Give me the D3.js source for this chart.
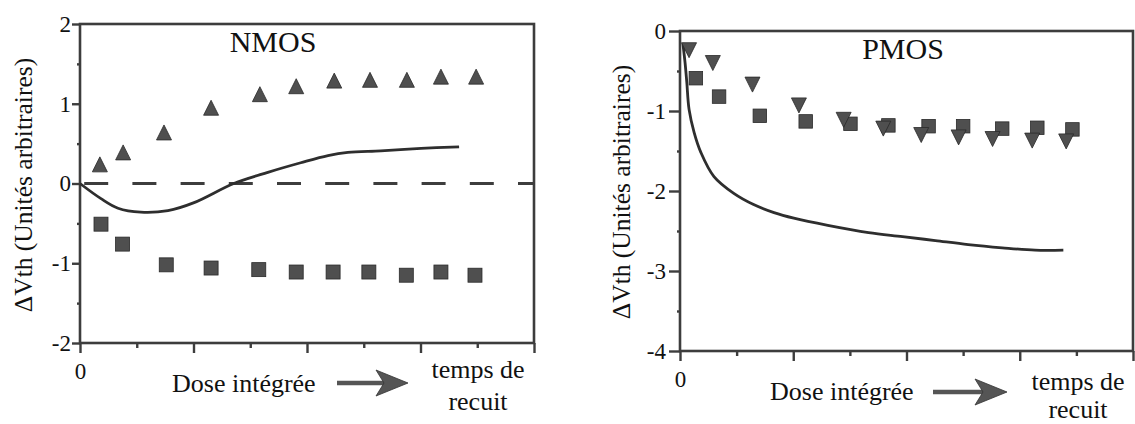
<!DOCTYPE html>
<html>
<head>
<meta charset="utf-8">
<script src="https://cdn.jsdelivr.net/npm/d3@7"></script>
<style>
body{margin:0;background:#fff}
svg text{font-family:"Liberation Serif","Times New Roman",Times,serif}
</style>
</head>
<body>
<svg id="chart" width="1135" height="424"></svg>
<script>
//---NMOS values---
var nmosTriX=[0.35,0.76,1.48,2.31,3.17,3.81,4.48,5.11,5.76,6.36,6.98]
var nmosTriY=[0.24,0.39,0.64,0.95,1.12,1.22,1.29,1.30,1.30,1.34,1.34]
var nmosSqX=[0.37,0.75,1.52,2.31,3.15,3.81,4.46,5.09,5.75,6.36,6.96]
var nmosSqY=[-0.51,-0.76,-1.02,-1.06,-1.08,-1.11,-1.11,-1.11,-1.15,-1.11,-1.15]
var nmosCurveX=[0,0.37,0.67,1.07,1.55,2.01,2.71,3.31,3.89,4.37,4.72,5.30,6.01,6.68]
var nmosCurveY=[0,-0.19,-0.31,-0.36,-0.34,-0.24,0,0.14,0.26,0.35,0.39,0.41,0.44,0.46]

//---PMOS values---
var pmosTriX=[0.16,0.58,1.28,2.10,2.89,3.59,4.26,4.92,5.52,6.22,6.82]
var pmosTriY=[-0.24,-0.40,-0.67,-0.93,-1.11,-1.22,-1.30,-1.33,-1.35,-1.37,-1.38]
var pmosSqX=[0.28,0.69,1.41,2.22,3.01,3.68,4.39,5.00,5.69,6.31,6.93]
var pmosSqY=[-0.59,-0.82,-1.06,-1.13,-1.16,-1.18,-1.19,-1.19,-1.22,-1.21,-1.23]
var pmosCurveX=[0.05,0.09,0.12,0.16,0.25,0.37,0.60,0.95,1.30,1.66,2.01,2.61,3.33,3.93,4.51,5.09,5.69,6.27,6.77]
var pmosCurveY=[-0.15,-0.40,-0.64,-0.98,-1.27,-1.52,-1.82,-2.03,-2.17,-2.27,-2.34,-2.43,-2.52,-2.57,-2.62,-2.67,-2.71,-2.74,-2.74]

//---ticks---
var xMajor=[0,2,4,6,8]
var xMinor=[1,3,5,7]
var nmosYMajor=[-2,-1,0,1,2]
var nmosYMinor=[-1.5,-0.5,0.5,1.5]
var pmosYMajor=[-4,-3,-2,-1,0]
var pmosYMinor=[-3.5,-2.5,-1.5,-0.5]

var yTitle="\u0394Vth (Unités arbitraires)"
var xTitle="Dose intégrée"
var endLabel1="temps de"
var endLabel2="recuit"

var FONT="\"Liberation Serif\",\"Times New Roman\",Times,serif"
var INK="#111"
var LINE="#3d3d3d"
var MARK="#4f4f4f"

var svg=d3.select("#chart")
svg.append("rect").attr("width",1135).attr("height",424).attr("fill","#fff")

function zip(a,b){ return a.map(function(d,i){return {x:d,y:b[i]}}) }

function triPath(s,down)
{
    var h=s/2
    if(down) return "M"+(-h)+","+(-h)+"L"+h+","+(-h)+"L0,"+h+"Z"
    return "M0,"+(-h)+"L"+h+","+h+"L"+(-h)+","+h+"Z"
}

function drawPanel(p)
{
    var g=svg.append("g").style("font-family",FONT)

    var xScale=d3.scaleLinear().domain([0,8]).range(p.xRange)
    var yScale=d3.scaleLinear().domain(p.yDomain).range(p.yRange)

    //---frame---
    g.append("rect")
    .attr("x",p.xRange[0]).attr("y",p.yRange[1])
    .attr("width",p.xRange[1]-p.xRange[0])
    .attr("height",p.yRange[0]-p.yRange[1])
    .attr("fill","none").attr("stroke",LINE).attr("stroke-width",2.6)

    //---y axis major---
    var yAx=g.append("g")
    .attr("transform","translate("+p.xRange[0]+",0)")
    .call(d3.axisLeft(yScale).tickValues(p.yMajor).tickSize(p.yTick).tickPadding(p.yPad)
        .tickFormat(function(d){return String(d)}))
    yAx.attr("font-family",null).attr("font-size",null)
    yAx.select(".domain").remove()
    yAx.selectAll("line").attr("stroke",LINE).attr("stroke-width",2.4)
    yAx.selectAll("text").style("font-family",FONT).style("font-size","23px").attr("fill",INK)

    //---y axis minor---
    var yMin=g.append("g")
    .attr("transform","translate("+p.xRange[0]+",0)")
    .call(d3.axisLeft(yScale).tickValues(p.yMinor).tickSize(3).tickFormat(""))
    yMin.select(".domain").remove()
    yMin.selectAll("line").attr("stroke",LINE).attr("stroke-width",2.4)

    //---x axis major---
    var xAx=g.append("g")
    .attr("transform","translate(0,"+p.yRange[0]+")")
    .call(d3.axisBottom(xScale).tickValues(xMajor).tickSize(10).tickPadding(10)
        .tickFormat(function(d){return d===0?"0":""}))
    xAx.attr("font-family",null).attr("font-size",null)
    xAx.select(".domain").remove()
    xAx.selectAll("line").attr("stroke",LINE).attr("stroke-width",2.4)
    xAx.selectAll("text").style("font-family",FONT).style("font-size","23px").attr("fill",INK)

    var xMin=g.append("g")
    .attr("transform","translate(0,"+p.yRange[0]+")")
    .call(d3.axisBottom(xScale).tickValues(xMinor).tickSize(5).tickFormat(""))
    xMin.select(".domain").remove()
    xMin.selectAll("line").attr("stroke",LINE).attr("stroke-width",2.4)

    //---zero dashed line---
    if(p.zeroLine)
    {
        g.append("line")
        .attr("x1",xScale(0)).attr("x2",xScale(8))
        .attr("y1",yScale(0)).attr("y2",yScale(0))
        .attr("stroke",LINE).attr("stroke-width",3)
        .attr("stroke-dasharray","24 24.2")
        .attr("stroke-dashoffset",44)
    }

    //---curve---
    var line=d3.line()
    .x(function(d){return xScale(d.x)})
    .y(function(d){return yScale(d.y)})
    .curve(d3.curveCatmullRom.alpha(0.5))

    g.append("path")
    .datum(p.curve)
    .attr("fill","none").attr("stroke","#2e2e2e").attr("stroke-width",2.8)
    .attr("d",line)

    //---squares---
    g.selectAll(".sq").data(p.squares).enter().append("rect")
    .attr("class","sq")
    .attr("x",function(d){return xScale(d.x)-p.sq/2})
    .attr("y",function(d){return yScale(d.y)-p.sq/2})
    .attr("width",p.sq).attr("height",p.sq)
    .attr("fill",MARK).attr("stroke","#2a2a2a").attr("stroke-width",0.8)

    //---triangles---
    g.selectAll(".tri").data(p.triangles).enter().append("path")
    .attr("class","tri")
    .attr("transform",function(d){return "translate("+xScale(d.x)+","+yScale(d.y)+")"})
    .attr("d",triPath(15,p.down))
    .attr("fill",MARK).attr("stroke","#2a2a2a").attr("stroke-width",0.8)

    //---titles---
    g.append("text")
    .attr("x",p.title[1]).attr("y",p.title[2])
    .attr("text-anchor","middle").style("font-size","30px").attr("fill",INK)
    .text(p.title[0])

    g.append("text")
    .attr("transform","translate("+p.yTitle[0]+" "+p.yTitle[1]+")rotate(-90)")
    .attr("text-anchor","middle").style("font-size","25.5px").attr("fill",INK)
    .text(yTitle)

    g.append("text")
    .attr("x",p.xTitle[0]).attr("y",p.xTitle[1])
    .style("font-size","26px").attr("fill",INK)
    .text(xTitle)

    g.append("text")
    .attr("x",p.endLabel[0]).attr("y",p.endLabel[1])
    .attr("text-anchor","middle").style("font-size","26px").attr("fill",INK)
    .text(endLabel1)
    g.append("text")
    .attr("x",p.endLabel[0]).attr("y",p.endLabel[2])
    .attr("text-anchor","middle").style("font-size","26px").attr("fill",INK)
    .text(endLabel2)

    //---arrow---
    var a=p.arrow   // [x0, x1(tip), y]
    g.append("line")
    .attr("x1",a[0]).attr("x2",a[1]-22).attr("y1",a[2]).attr("y2",a[2])
    .attr("stroke","#555").attr("stroke-width",4.5)
    g.append("path")
    .attr("d","M"+a[1]+","+a[2]+"L"+(a[1]-32)+","+(a[2]-13)+"L"+(a[1]-24)+","+a[2]
        +"L"+(a[1]-32)+","+(a[2]+13)+"Z")
    .attr("fill","#555").attr("stroke","#333").attr("stroke-width",0.8)
}

drawPanel({
    xRange:[80,534], yDomain:[-2,2], yRange:[343,24],
    yMajor:nmosYMajor, yMinor:nmosYMinor, yTick:8, yPad:1,
    zeroLine:true, down:false, sq:14,
    curve:zip(nmosCurveX,nmosCurveY),
    squares:zip(nmosSqX,nmosSqY),
    triangles:zip(nmosTriX,nmosTriY),
    title:["NMOS",273,52],
    yTitle:[32,185],
    xTitle:[172,392],
    endLabel:[478,378,410],
    arrow:[337,408,383]
})

drawPanel({
    xRange:[680,1133], yDomain:[-4,0], yRange:[351,31],
    yMajor:pmosYMajor, yMinor:pmosYMinor, yTick:11, yPad:3,
    zeroLine:false, down:true, sq:13.5,
    curve:zip(pmosCurveX,pmosCurveY),
    squares:zip(pmosSqX,pmosSqY),
    triangles:zip(pmosTriX,pmosTriY),
    title:["PMOS",903,59],
    yTitle:[630,192],
    xTitle:[770,400],
    endLabel:[1078,390,418],
    arrow:[933,1007,392]
})
</script>
</body>
</html>
